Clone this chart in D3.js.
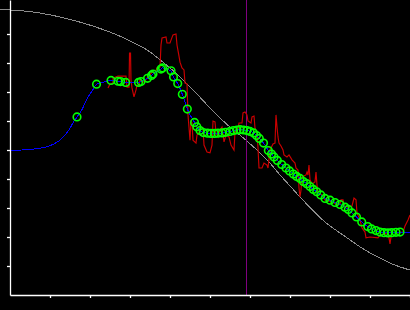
<!DOCTYPE html>
<html><head><meta charset="utf-8">
<script src="https://cdn.jsdelivr.net/npm/d3@7"></script>
<style>html,body{margin:0;padding:0;background:#000;}svg{display:block;}</style>
</head><body>
<script>
// ---- data ----
const xTicks = [10,20,30,40,50,60,70,80,90,100];
const yTicks = [1,2,3,4,5,6,7,8,9];
const markerX = 59.1;

const grayX = [-2.5,0,5.75,10,14.25,18.25,22.5,26.75,30.75,34.25,38.25,42.5,46.75,50.75,55,59,63,65,67.5,70,72.5,75,77.5,80,82.5,85,87.5,90,92.5,95,97.5,100];
const grayY = [9.85,9.83,9.76,9.66,9.53,9.38,9.19,8.97,8.71,8.45,8.03,7.52,6.93,6.34,5.79,5.34,4.83,4.55,4.14,3.76,3.38,3.02,2.67,2.38,2.14,1.90,1.66,1.45,1.28,1.10,0.97,0.86];

const redX = [24.5,25,25.75,25.75,27,29,29.25,29.75,29.88,30.13,30.25,30.5,31,31.5,31.75,32.25,32.5,33.5,34.25,35,35.5,36.25,36.75,37.5,37.75,38,39,39.25,40,40.25,40.75,41.5,41.75,42.25,42.5,43,43.5,43.75,44.25,44.5,45,45.25,45.5,45.75,46.5,46.75,47.25,47.5,48.25,48.5,49.25,50,50.5,50.75,51.25,51.5,52,52.5,53,53.5,54,54.75,55.25,56,56.25,57,57.25,58,58.25,58.75,59.25,59.5,60.25,60.5,61,61.25,61.75,62,62.25,63,63.5,64.25,64.5,65,65.75,66.25,66.5,66.75,67,67.25,67.75,68.25,68.5,69.25,69.75,70.5,71.25,71.5,72,72.25,72.5,72.75,73,74,74.25,74.5,74.75,75,75.5,76.25,76.5,76.75,77,78,78.75,80.75,81.75,82.5,82.75,83.25,83.5,84.5,85.5,86,86.5,86.75,87.5,88,88.75,89,90,92,92.5,93.75,94.25,94.75,95,95.25,95.5,96.75,98.25,98.75,99.5,100];
const redY = [7.14,7.28,7.31,7.48,7.55,7.55,7.17,7.17,8.34,8.34,7.41,7.14,6.83,7.07,7.24,7.21,7.41,7.34,7.48,7.59,7.69,7.66,7.83,7.86,8.62,8.86,8.90,8.69,8.69,8.79,8.97,9.0,8.62,8.24,8.03,7.83,7.76,7.31,7.28,6.21,5.34,6.03,5.93,5.34,5.24,5.52,5.59,5.76,5.76,5.17,4.93,4.90,5.17,6.0,5.97,5.59,5.45,5.69,5.79,5.28,5.52,5.45,5.17,5.0,5.62,5.72,5.93,5.93,6.28,6.31,6.21,6.0,5.93,6.14,6.17,5.76,5.59,5.07,4.38,4.38,4.55,4.48,4.38,5.0,5.21,5.24,6.21,5.79,5.45,5.24,5.14,5.0,4.83,4.76,4.83,4.66,4.55,4.38,4.31,3.69,3.38,3.62,4.07,4.14,4.24,4.14,4.48,3.97,3.83,3.90,4.24,3.79,3.52,3.45,3.28,3.21,3.10,3.14,3.28,3.28,3.07,3.03,3.07,3.34,3.28,2.83,2.59,2.31,2.17,1.97,2.0,1.97,2.07,2.10,2.17,1.97,1.76,2.0,2.17,2.14,2.17,2.38,2.59,2.76];

const blueLeadX = [0,2.93,5.75,8.25,10,11.25,12.5,13.75,14.75,15.68,16.75,17.93,18.75,19.58,20.68,21.63,22.93,24.18];
const blueLeadY = [4.99,5.0,5.03,5.08,5.15,5.23,5.34,5.52,5.69,5.92,6.14,6.38,6.61,6.84,7.07,7.27,7.32,7.38];
const blueTailX = [100];
const blueTailY = [2.16];

const ptX = [16.75,21.63,25.25,27.0,27.63,28.93,32.13,32.75,34.38,35.38,35.75,37.75,38.13,40.25,40.88,41.93,43.08,44.33,46.13,46.7,47.5,48.33,49.38,50.25,51.13,52.0,53.0,53.88,55.0,55.88,56.75,57.5,58.38,59.25,60.0,60.88,61.63,62.33,63.38,64.58,65.38,66.0,66.83,67.93,69.0,69.88,70.83,71.68,72.5,73.33,74.18,75.0,75.83,76.68,77.68,78.75,80.0,81.25,82.5,83.75,84.58,85.5,86.63,87.93,89.43,90.38,91.5,92.5,93.5,94.5,95.43,96.5,97.5];
const ptY = [6.14,7.27,7.40,7.37,7.36,7.33,7.33,7.36,7.47,7.57,7.62,7.79,7.83,7.73,7.52,7.29,6.92,6.41,5.95,5.80,5.67,5.60,5.58,5.57,5.57,5.58,5.59,5.61,5.64,5.67,5.69,5.70,5.69,5.67,5.64,5.59,5.50,5.40,5.24,4.98,4.86,4.76,4.64,4.50,4.38,4.28,4.17,4.09,4.02,3.91,3.84,3.74,3.64,3.56,3.45,3.33,3.27,3.19,3.12,3.03,2.95,2.83,2.69,2.52,2.36,2.28,2.22,2.17,2.15,2.14,2.15,2.16,2.17];

// ---- chart ----
const W = 410, H = 310;
const svg = d3.select("body").append("svg").attr("width", W).attr("height", H)
  .style("background", "#000");

const x = d3.scaleLinear().domain([0, 100]).range([10, 410]);
const y = d3.scaleLinear().domain([0, 295/29]).range([295, 0]);

const zip = (xs, ys) => xs.map((v, i) => [v, ys[i]]);
const lin = d3.line().x(d => x(d[0])).y(d => y(d[1]));
const smooth = d3.line().x(d => x(d[0])).y(d => y(d[1])).curve(d3.curveMonotoneX);

// gray curve
svg.append("path")
  .attr("fill", "none").attr("stroke", "#8c8c8c").attr("stroke-width", 1)
  .attr("shape-rendering", "crispEdges")
  .attr("d", smooth(zip(grayX, grayY)));

// purple marker line
svg.append("line")
  .attr("x1", Math.round(x(markerX)) + 0.5).attr("x2", Math.round(x(markerX)) + 0.5)
  .attr("y1", y(0)).attr("y2", 0)
  .attr("stroke", "#800080").attr("stroke-width", 1);

// red raw data
svg.append("path")
  .attr("fill", "none").attr("stroke", "#cc0000").attr("stroke-width", 1.15)
  .attr("d", lin(zip(redX, redY)));

// blue smooth line
const bluePts = zip(blueLeadX, blueLeadY)
  .concat(zip(ptX.slice(2), ptY.slice(2)))
  .concat(zip(blueTailX, blueTailY));
svg.append("path")
  .attr("fill", "none").attr("stroke", "#0000ff").attr("stroke-width", 1)
  .attr("shape-rendering", "crispEdges")
  .attr("d", smooth(bluePts));

// green circles
svg.append("g").selectAll("circle").data(zip(ptX, ptY)).join("circle")
  .attr("cx", d => x(d[0])).attr("cy", d => y(d[1])).attr("r", 3.8)
  .attr("fill", "none").attr("stroke", "#00ff00").attr("stroke-width", 1.6);

// axes
const gx = svg.append("g").attr("transform", "translate(0,295)")
  .call(d3.axisBottom(x).tickValues(xTicks).tickSize(3).tickSizeOuter(0).tickFormat(""));
const gy = svg.append("g").attr("transform", "translate(10,0)")
  .call(d3.axisLeft(y).tickValues(yTicks).tickSize(3).tickSizeOuter(0).tickFormat(""));
[gx, gy].forEach(g => {
  g.selectAll("path, line").attr("stroke", "#fff").attr("stroke-width", 1.3);
});
</script>
</body></html>
